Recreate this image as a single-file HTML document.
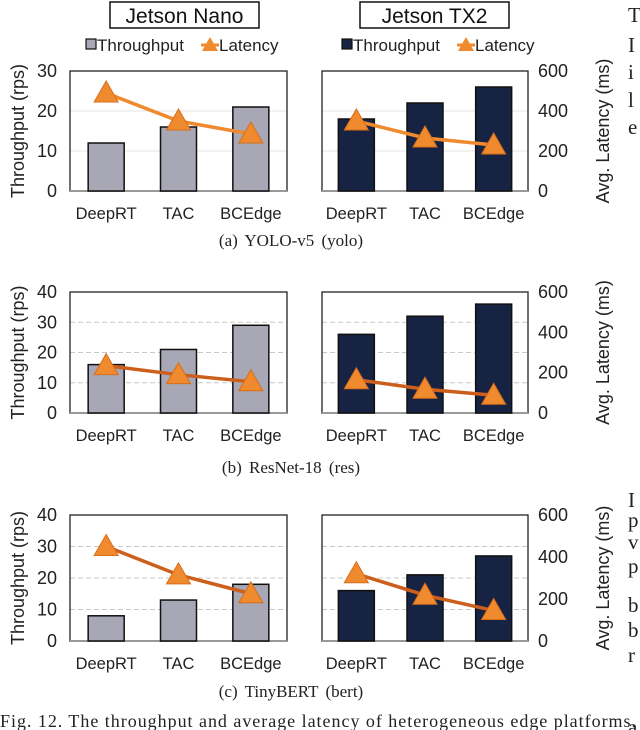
<!DOCTYPE html>
<html><head><meta charset="utf-8"><style>
html,body{margin:0;padding:0;background:#fff;}
svg{display:block;font-family:"Liberation Sans",Arial,sans-serif;}
.serif{font-family:"Liberation Serif","Times New Roman",serif;}
</style></head><body>
<svg id="fig" width="640" height="730" viewBox="0 0 640 730"></svg>
<script>
const categories = ["DeepRT","TAC","BCEdge"];
const nanoThroughputA = [12,16,21];
const nanoLatencyA = [490,350,285];
const tx2ThroughputA = [18,22,26];
const tx2LatencyA = [350,265,230];
const nanoThroughputB = [16,21,29];
const nanoLatencyB = [235,190,155];
const tx2ThroughputB = [26,32,36];
const tx2LatencyB = [165,118,88];
const nanoThroughputC = [8,13,18];
const nanoLatencyC = [450,315,225];
const tx2ThroughputC = [16,21,27];
const tx2LatencyC = [320,218,145];
const leftTicksA = [0,10,20,30];
const leftTicksBC = [0,10,20,30,40];
const rightTicks = [0,200,400,600];

const NS="http://www.w3.org/2000/svg";
const svg=document.getElementById('fig');
function mk(tag,attrs,parent,text){const e=document.createElementNS(NS,tag);for(const k in attrs)e.setAttribute(k,attrs[k]);if(text!==undefined)e.textContent=text;(parent||svg).appendChild(e);return e;}

function panel(id,top,base,leftMax,leftTicks,dashed,lineColor,sets,caption,capY){
  const g=mk('g',{});
  
  
  const plots=[{x0:70,x1:287,fill:'#a7a7b5',tp:sets[0],lat:sets[1],name:'nano'},{x0:322,x1:528,fill:'#172342',tp:sets[2],lat:sets[3],name:'tx2'}];
  const yL=v=>base-(v/leftMax)*(base-top);
  const yR=v=>base-(v/600)*(base-top);
  plots.forEach(p=>{
    const w=p.x1-p.x0;
    const xc=i=>p.x0+(i+0.5)*w/3;
    leftTicks.forEach(t=>{ if(t>0 && t<leftMax){
      const l=mk('line',{x1:p.x0,x2:p.x1,y1:yL(t),y2:yL(t),stroke:dashed?'#c8c8c8':'#e4e4e4','stroke-width':1,'stroke-dasharray':dashed?'5,3':'none'},g);
      
      
    }});
    const box=mk('rect',{x:p.x0,y:top,width:w,height:base-top,fill:'none',stroke:'#222','stroke-width':1.3},g);
    
    
    const ax=mk('line',{x1:p.x0,x2:p.x1,y1:base,y2:base,stroke:'#999','stroke-width':2},g);
    
    
    p.tp.forEach((v,i)=>{
      const r=mk('rect',{x:xc(i)-18,y:yL(v),width:36,height:base-yL(v),fill:p.fill,stroke:'#111','stroke-width':1.5},g);
      
      
      const t=mk('text',{x:xc(i),y:base+28,'text-anchor':'middle','font-size':16.5,fill:'#222'},g,categories[i]);
      
      
    });
    const pts=p.lat.map((v,i)=>xc(i)+','+yR(v)).join(' ');
    const pl=mk('polyline',{points:pts,fill:'none',stroke:lineColor,'stroke-width':3.5},g);
    
    
    p.lat.forEach((v,i)=>{
      const cx=xc(i),cy=yR(v);
      const tr=mk('polygon',{points:`${cx},${cy-12} ${cx-12},${cy+9} ${cx+12},${cy+9}`,fill:'#f08a2e',stroke:'#d86e18','stroke-width':1},g);
      
      
    });
  });
  leftTicks.forEach(t=>{
    const e=mk('text',{x:57,y:yL(t)+6,'text-anchor':'end','font-size':18,fill:'#222'},g,String(t));
    
    
  });
  rightTicks.forEach(t=>{
    const e=mk('text',{x:538,y:yR(t)+6,'text-anchor':'start','font-size':18,fill:'#222'},g,String(t));
    
    
  });
  const mid=(top+base)/2;
  const lt=mk('text',{x:0,y:0,'text-anchor':'middle','font-size':18,fill:'#222',transform:`translate(24,${mid}) rotate(-90)`},g,'Throughput (rps)');
  
  
  const rt=mk('text',{x:0,y:0,'text-anchor':'middle','font-size':18,fill:'#222',transform:`translate(609,${mid}) rotate(-90)`},g,'Avg. Latency (ms)');
  
  
  const c=mk('text',{x:291,y:capY,'text-anchor':'middle','font-size':17,fill:'#222',class:'serif','word-spacing':3},g,caption);
  
  
}

[[110,'Jetson Nano'],[360,'Jetson TX2']].forEach(([x,t],k)=>{
  const r=mk('rect',{x:x,y:2,width:149,height:26,fill:'#fff',stroke:'#111','stroke-width':1.5});
  
  
  const e=mk('text',{x:x+74.5,y:23,'text-anchor':'middle','font-size':21,fill:'#111'},svg,t);
  
  
});
[[86,'#a7a7b5'],[342,'#172342']].forEach(([x,f],k)=>{
  const s=mk('rect',{x:x,y:39,width:10,height:10,fill:f,stroke:'#111','stroke-width':1.2});
  
  
  const t=mk('text',{x:x+11,y:51,'font-size':17,fill:'#222'},svg,'Throughput');
  
  
  const lx=x+119;
  const ln=mk('line',{x1:lx-4,x2:lx+14,y1:45,y2:45,stroke:'#f08a2e','stroke-width':3});
  
  
  const tr=mk('polygon',{points:`${lx+5},37 ${lx-3},51 ${lx+13},51`,fill:'#f08a2e'});
  
  
  const t2=mk('text',{x:lx+14,y:51,'font-size':17,fill:'#222'},svg,'Latency');
  
  
});

panel('a',71,191,30,leftTicksA,false,'#f08a2e',[nanoThroughputA,nanoLatencyA,tx2ThroughputA,tx2LatencyA],'(a)  YOLO-v5  (yolo)',246);
panel('b',292,413,40,leftTicksBC,true,'#cc5f1c',[nanoThroughputB,nanoLatencyB,tx2ThroughputB,tx2LatencyB],'(b)  ResNet-18  (res)',473);
panel('c',515,641,40,leftTicksBC,true,'#cc5f1c',[nanoThroughputC,nanoLatencyC,tx2ThroughputC,tx2LatencyC],'(c)  TinyBERT  (bert)',697);

const fc=mk('text',{x:0,y:727,'font-size':18,fill:'#222',class:'serif',textLength:636,lengthAdjust:'spacing'},svg,'Fig. 12.  The throughput and average latency of heterogeneous edge platforms.');


[[15,'T'],[45,'I'],[72,'i'],[100,'l'],[127,'e'],[500,'I'],[520,'p'],[542,'v'],[566,'p'],[605,'b'],[630,'b'],[655,'r'],[727,'a']].forEach(([y,ch])=>{
  const e=mk('text',{x:628,y:y+7,'font-size':21,fill:'#222',class:'serif'},svg,ch);
  
  
});
</script>
</body></html>
